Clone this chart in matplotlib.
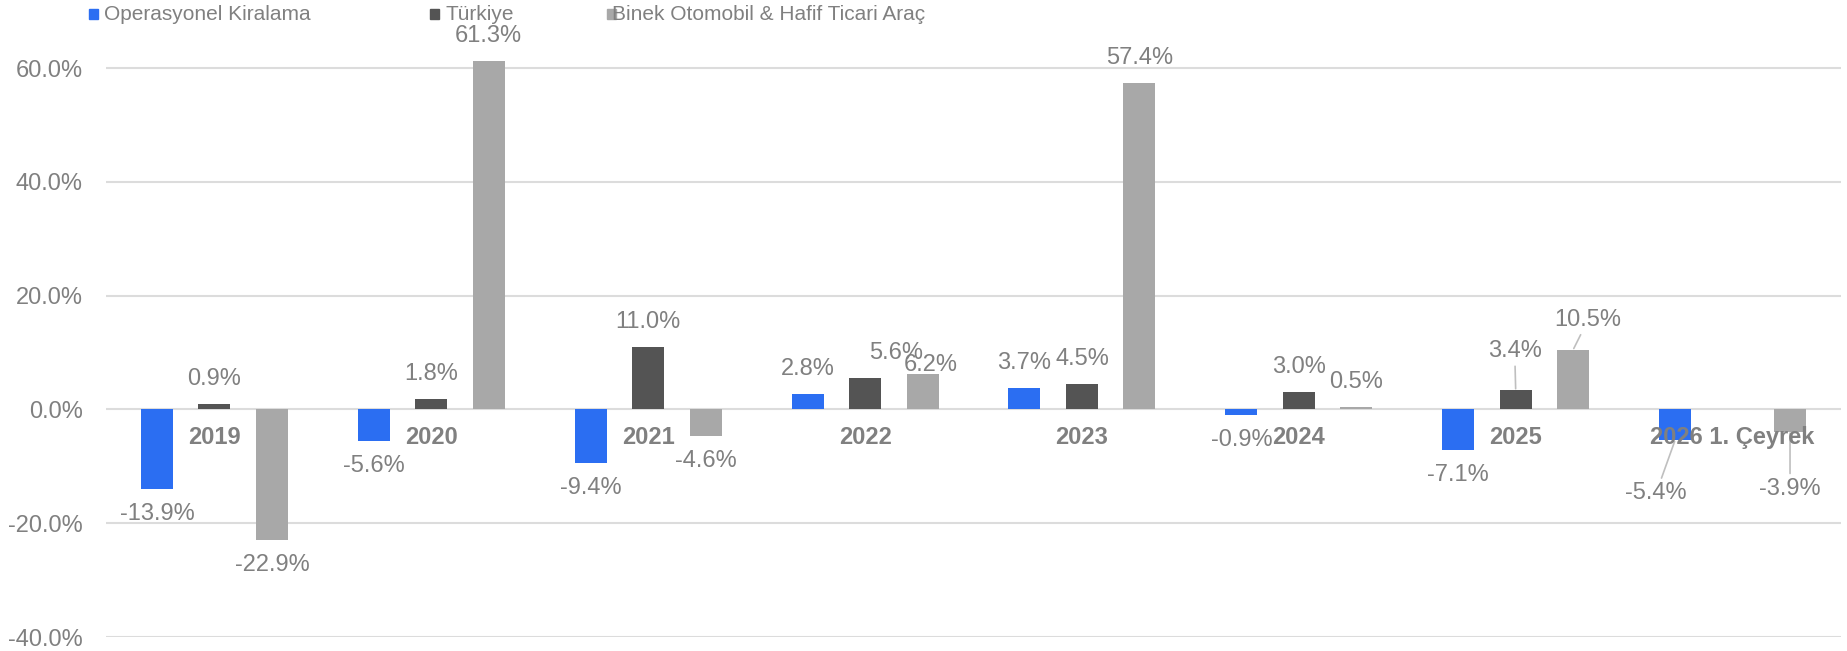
import numpy as np
import matplotlib
matplotlib.use("Agg")
import matplotlib.pyplot as plt
from matplotlib.patches import Rectangle

plt.rcParams['font.family'] = ['Liberation Sans', 'DejaVu Sans']

categories = ["2019", "2020", "2021", "2022", "2023", "2024", "2025", "2026 1. Çeyrek"]
series_names = ["Operasyonel Kiralama", "Türkiye", "Binek Otomobil & Hafif Ticari Araç"]
operasyonel = [-13.9, -5.6, -9.4, 2.8, 3.7, -0.9, -7.1, -5.4]
turkiye = [0.9, 1.8, 11.0, 5.6, 4.5, 3.0, 3.4, np.nan]
binek = [-22.9, 61.3, -4.6, 6.2, 57.4, 0.5, 10.5, -3.9]
y_ticks = [-40, -20, 0, 20, 40, 60]

colors = ['#2B6EF2', '#545454', '#A8A8A8']
text_gray = '#808080'
grid_gray = '#DCDCDC'

DPI = 100
PX = 72 / DPI  # pixel -> points

# label nudges in pixels (dx, dy) for labels that were moved by hand in the original
# key: (series index, category index) -> (dx, dy, leader line)
label_moves = {
    (1, 3): (31, 25, False),
    (2, 3): (8, 9, False),
    (1, 6): (-1, 39, True),
    (2, 6): (15, 30, True),
    (0, 7): (-19, -53, True),
    (2, 7): (0, -57, True),
}

fig = plt.figure(figsize=(18.47, 6.51), dpi=DPI)
ax = fig.add_axes([106 / 1847, 14 / 651, 1735 / 1847, 603 / 651])

x = np.arange(len(categories))
width = 0.1475
offsets = [-0.265, 0.0, 0.265]
all_series = [operasyonel, turkiye, binek]

for si, (vals, off, col) in enumerate(zip(all_series, offsets, colors)):
    vals = np.array(vals, dtype=float)
    ax.bar(x + off, vals, width=width, color=col, zorder=2)
    for ci, v in enumerate(vals):
        if np.isnan(v):
            continue
        sign = 1 if v >= 0 else -1
        dx, dy, leader = label_moves.get((si, ci), (0, 25 * sign, False))
        arrow = None
        if leader:
            arrow = dict(arrowstyle='-', color='#BFBFBF', lw=1.2,
                         shrinkA=1, shrinkB=1)
        ax.annotate(f"{v:.1f}%", xy=(x[ci] + off, v), xytext=(dx * PX, dy * PX),
                    textcoords='offset points', ha='center', va='center',
                    fontsize=17, color=text_gray, arrowprops=arrow, zorder=4)

# category labels sit just under the zero line
for ci, cat in enumerate(categories):
    ax.annotate(cat, xy=(x[ci], 0), xytext=(0, -28 * PX), textcoords='offset points',
                ha='center', va='center', fontsize=17, fontweight='bold',
                color=text_gray, zorder=5)

ax.set_xlim(-0.5, len(categories) - 0.5)
ax.set_ylim(-40, 66)
ax.set_yticks(y_ticks)
ax.set_yticklabels([f"{t:.1f}%" for t in y_ticks])
ax.tick_params(axis='y', length=0, pad=23 * PX, labelsize=17, labelcolor=text_gray)
ax.set_xticks([])
for s in ax.spines.values():
    s.set_visible(False)
ax.grid(axis='y', color=grid_gray, lw=1.5, zorder=0)
ax.set_axisbelow(True)

# legend along the top
leg_sq_x = [89, 430, 607]
leg_txt_x = [104, 445, 612]
leg_y = 14
for name, col, sx, tx in zip(series_names, colors, leg_sq_x, leg_txt_x):
    fig.patches.append(Rectangle((sx / 1847, 1 - (leg_y + 4.5) / 651), 9 / 1847, 9 / 651,
                                 transform=fig.transFigure, color=col, figure=fig))
    fig.text(tx / 1847, 1 - leg_y / 651, name, fontsize=15, color=text_gray,
             ha='left', va='center')

fig.savefig("out.png", dpi=DPI)
